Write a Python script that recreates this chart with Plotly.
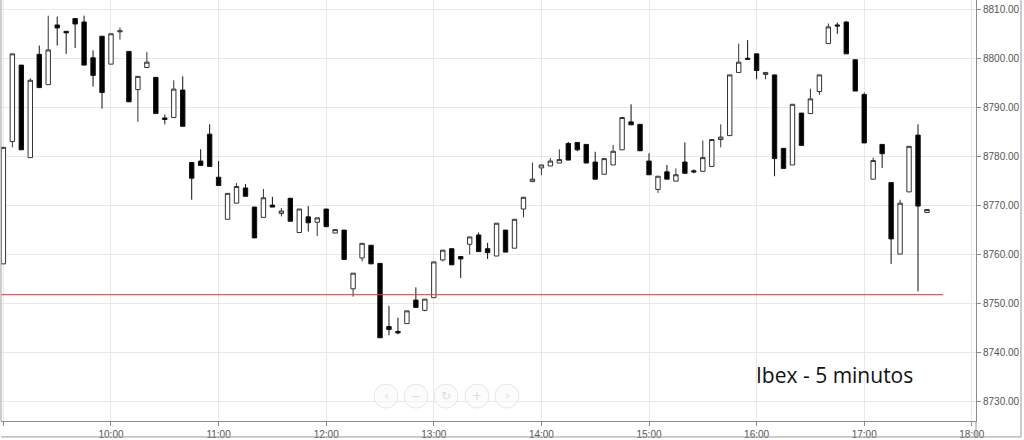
import pandas as pd
import plotly.graph_objects as go

# ---- data (Ibex, 5-minute candles) ----
times = pd.date_range("2024-01-02 09:00", periods=104, freq="5min")

opens = [8758.1, 8783.1, 8798.7, 8779.8, 8800.9, 8794.7, 8806.9, 8805.6, 8808.2, 8807.5,
         8800.2, 8804.6, 8798.9, 8805.5, 8801.5, 8793.7, 8798.2, 8796.2, 8787.9, 8788.0,
         8793.6, 8778.8, 8779.1, 8784.6, 8775.8, 8767.2, 8770.5, 8773.6, 8769.7, 8767.6,
         8770.1, 8768.4, 8771.5, 8764.5, 8767.7, 8766.6, 8769.3, 8764.4, 8765.0, 8753.0,
         8759.3, 8761.9, 8758.2, 8745.3, 8744.3, 8745.9, 8750.7, 8748.6, 8751.2, 8758.9,
         8761.2, 8759.6, 8762.1, 8764.0, 8761.2, 8759.7, 8765.0, 8761.3, 8769.3, 8774.9,
         8777.7, 8778.1, 8778.7, 8782.7, 8782.9, 8782.5, 8778.9, 8776.4, 8778.3, 8781.4,
         8787.1, 8786.6, 8779.1, 8773.3, 8776.9, 8775.0, 8778.9, 8777.1, 8777.0, 8778.0,
         8783.5, 8784.3, 8797.2, 8800.1, 8801.0, 8796.8, 8796.7, 8781.7, 8778.3, 8788.9,
         8788.8, 8793.3, 8803.1, 8806.9, 8807.5, 8799.8, 8792.7, 8775.4, 8782.5, 8774.7,
         8760.1, 8772.8, 8784.4, 8768.6]

highs = [8781.9, 8801.0, 8798.7, 8796.0, 8802.7, 8808.8, 8808.6, 8805.6, 8808.2, 8808.8,
         8801.7, 8804.6, 8805.1, 8806.4, 8801.5, 8796.4, 8801.4, 8796.2, 8788.6, 8795.6,
         8796.4, 8778.8, 8781.5, 8786.6, 8779.1, 8772.5, 8774.6, 8774.4, 8769.7, 8773.4,
         8771.8, 8769.5, 8771.5, 8769.3, 8769.9, 8767.5, 8769.3, 8765.1, 8765.0, 8756.2,
         8762.3, 8761.9, 8758.2, 8749.5, 8747.1, 8748.5, 8753.3, 8750.9, 8758.5, 8760.9,
         8761.2, 8759.6, 8763.6, 8764.5, 8762.4, 8766.4, 8765.0, 8767.2, 8771.7, 8778.8,
         8778.3, 8779.7, 8781.5, 8783.0, 8782.9, 8782.5, 8781.0, 8779.6, 8782.4, 8788.0,
         8790.7, 8786.6, 8780.7, 8776.0, 8778.3, 8777.6, 8782.9, 8777.4, 8783.3, 8783.5,
         8786.6, 8796.7, 8803.1, 8803.8, 8801.0, 8797.2, 8796.7, 8781.7, 8790.7, 8788.9,
         8793.9, 8796.7, 8807.2, 8807.4, 8807.7, 8799.8, 8793.1, 8779.8, 8782.5, 8774.7,
         8771.2, 8782.1, 8786.6, 8769.2]

lows = [8758.1, 8781.9, 8781.4, 8779.8, 8794.1, 8794.7, 8802.7, 8801.0, 8802.2, 8798.7,
        8794.3, 8789.8, 8798.9, 8803.9, 8791.2, 8787.1, 8798.2, 8788.8, 8786.6, 8788.0,
        8786.2, 8771.2, 8778.2, 8778.0, 8774.1, 8767.2, 8770.5, 8771.9, 8763.4, 8767.6,
        8769.7, 8767.8, 8766.8, 8764.5, 8764.7, 8763.8, 8765.7, 8764.4, 8759.0, 8751.4,
        8758.6, 8758.1, 8743.0, 8743.5, 8743.7, 8745.9, 8749.2, 8748.4, 8751.2, 8758.6,
        8757.9, 8755.2, 8760.0, 8760.6, 8759.1, 8759.7, 8760.5, 8761.3, 8767.6, 8774.9,
        8776.2, 8778.1, 8778.7, 8779.3, 8781.1, 8778.7, 8775.4, 8776.4, 8778.3, 8781.4,
        8786.5, 8781.2, 8776.3, 8772.6, 8775.4, 8775.0, 8776.6, 8776.6, 8777.0, 8778.0,
        8781.9, 8784.3, 8797.2, 8799.9, 8795.8, 8795.8, 8776.0, 8777.6, 8778.3, 8782.3,
        8788.8, 8792.6, 8803.1, 8805.1, 8801.0, 8793.4, 8782.8, 8775.4, 8777.7, 8758.1,
        8760.1, 8772.8, 8752.5, 8768.6]

closes = [8781.9, 8801.0, 8781.4, 8795.6, 8794.1, 8801.8, 8806.3, 8805.3, 8807.1, 8798.7,
          8796.6, 8793.1, 8805.1, 8805.7, 8791.2, 8796.4, 8799.3, 8788.8, 8787.6, 8793.8,
          8786.2, 8775.6, 8778.2, 8778.0, 8774.1, 8772.5, 8773.9, 8771.9, 8763.4, 8771.6,
          8769.7, 8768.9, 8766.8, 8769.3, 8766.5, 8767.5, 8765.7, 8765.1, 8759.0, 8756.2,
          8762.3, 8758.1, 8743.0, 8744.7, 8744.0, 8748.5, 8749.2, 8750.9, 8758.5, 8760.9,
          8757.9, 8759.1, 8763.6, 8760.6, 8760.4, 8766.4, 8760.5, 8767.2, 8771.7, 8775.4,
          8778.3, 8779.1, 8779.4, 8779.3, 8781.4, 8778.7, 8775.4, 8779.6, 8781.1, 8788.0,
          8786.5, 8781.2, 8776.3, 8776.0, 8775.4, 8776.3, 8776.6, 8776.9, 8779.8, 8783.5,
          8784.0, 8796.7, 8799.3, 8799.9, 8797.6, 8797.2, 8779.6, 8777.6, 8790.7, 8782.3,
          8791.8, 8796.7, 8806.5, 8806.7, 8801.0, 8793.4, 8782.8, 8779.2, 8780.6, 8763.2,
          8770.5, 8782.1, 8769.9, 8769.2]

ref_level = 8751.8
ref_start = "2024-01-02 08:55"
ref_end = "2024-01-02 17:44"

title_text = "Ibex - 5 minutos"
nav_symbols = ["‹", "−", "↻", "+", "›"]

# ---- figure ----
fig = go.Figure()
fig.add_trace(go.Candlestick(
    x=times, open=opens, high=highs, low=lows, close=closes,
    increasing=dict(line=dict(color="#333333", width=1), fillcolor="#ffffff"),
    decreasing=dict(line=dict(color="#111111", width=1), fillcolor="#000000"),
    whiskerwidth=0,
    showlegend=False,
    hoverinfo="skip",
))

W, H = 1024, 440
L, R, T, B = 1, 48, 0, 17
pw, ph = W - L - R, H - T - B

def px(xp):
    return (xp - L) / pw

def py(yp):
    return (H - B - yp) / ph

shapes = [
    dict(type="line", xref="x", yref="y", x0=ref_start, x1=ref_end,
         y0=ref_level, y1=ref_level, line=dict(color="#ff2a2a", width=1), layer="above"),
    dict(type="line", xref="paper", yref="paper", x0=0, x1=0, y0=0, y1=1,
         line=dict(color="#9a9a9a", width=1)),
    dict(type="line", xref="paper", yref="paper", x0=px(1021), x1=px(1021), y0=py(439), y1=1,
         line=dict(color="#9a9a9a", width=1)),
    dict(type="line", xref="paper", yref="paper", x0=0, x1=px(1021), y0=py(439), y1=py(439),
         line=dict(color="#9a9a9a", width=1)),
    dict(type="line", xref="paper", yref="paper", x0=px(976), x1=px(976), y0=py(439), y1=0,
         line=dict(color="#9a9a9a", width=1)),
]

annotations = [
    dict(text=title_text, xref="paper", yref="paper", x=px(834), y=py(377),
         xanchor="center", yanchor="middle", showarrow=False,
         font=dict(family="Open Sans", size=21, color="#111111")),
]

nav_x = [386, 416, 446, 477, 507]
nav_y = 398
for sx, sym in zip(nav_x, nav_symbols):
    shapes.append(dict(type="circle", xref="paper", yref="paper",
                       xsizemode="pixel", ysizemode="pixel",
                       xanchor=px(sx), yanchor=py(nav_y),
                       x0=-12, x1=12, y0=-12, y1=12,
                       fillcolor="rgba(250,250,250,0.6)",
                       line=dict(color="#e6e6e6", width=1), layer="above"))
    annotations.append(dict(text=sym, xref="paper", yref="paper", x=px(sx), y=py(nav_y),
                            xanchor="center", yanchor="middle", showarrow=False,
                            font=dict(family="DejaVu Sans", size=12, color="#dddddd")))

fig.update_layout(
    width=W, height=H,
    margin=dict(l=L, r=R, t=T, b=B, pad=0),
    paper_bgcolor="#ffffff",
    plot_bgcolor="#ffffff",
    shapes=shapes,
    annotations=annotations,
    xaxis=dict(
        type="date",
        range=["2024-01-02 08:58:40", "2024-01-02 18:02:20"],
        tickformat="%H:%M",
        dtick=3600000,
        tick0="2024-01-02 10:00",
        showgrid=True, gridcolor="#e8e8e8", gridwidth=1,
        showline=True, linecolor="#8c8c8c", linewidth=1,
        ticks="outside", ticklen=4, tickcolor="#8c8c8c",
        tickfont=dict(family="Liberation Sans", size=10, color="#555555"),
        rangeslider=dict(visible=False),
        zeroline=False,
        fixedrange=True,
    ),
    yaxis=dict(
        side="right",
        range=[8726, 8812],
        dtick=10, tick0=8730,
        tickformat=".2f",
        showgrid=True, gridcolor="#e8e8e8", gridwidth=1,
        showline=True, linecolor="#8c8c8c", linewidth=1,
        ticks="outside", ticklen=4, tickcolor="#8c8c8c",
        tickfont=dict(family="Liberation Sans", size=10, color="#555555"),
        zeroline=False,
        fixedrange=True,
    ),
)

fig.write_html("out.html")
